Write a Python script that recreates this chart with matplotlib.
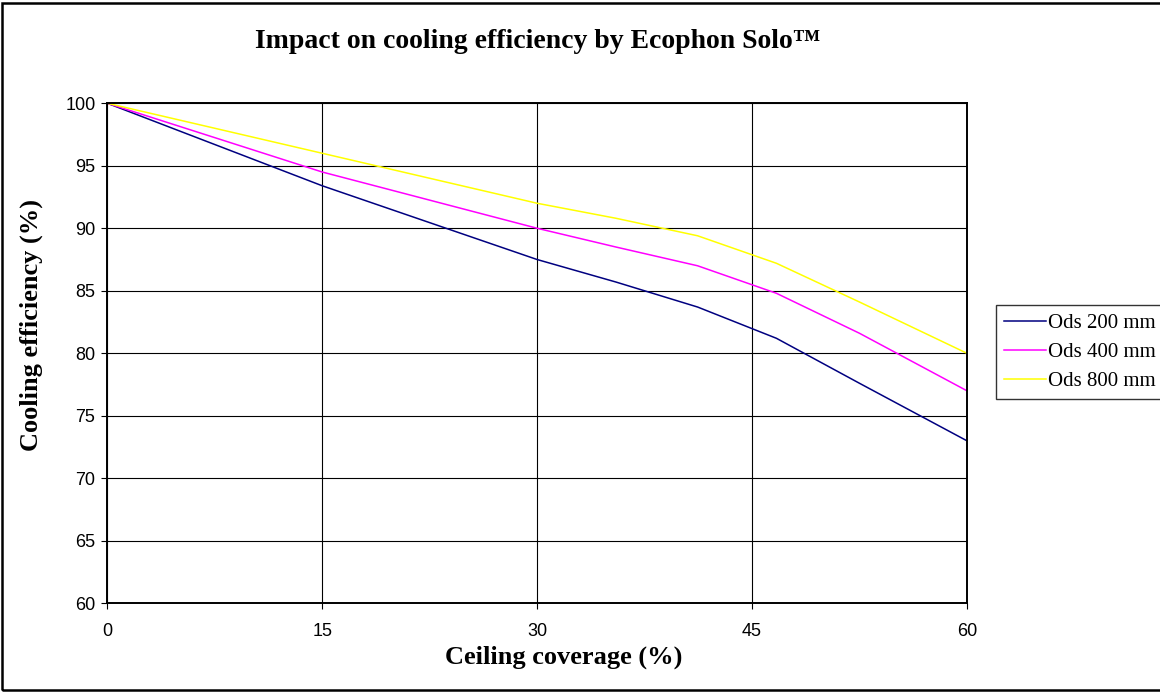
import matplotlib
matplotlib.use("Agg")
import matplotlib.pyplot as plt
from matplotlib.patches import Rectangle

# data
coverage = [0, 15, 30, 35.5, 41.2, 46.7, 52.5, 60]
ods_200 = [100, 93.4, 87.5, 85.7, 83.7, 81.2, 77.6, 73]
ods_400 = [100, 94.5, 90.0, 88.5, 87.0, 84.8, 81.6, 77]
ods_800 = [100, 96.0, 92.0, 90.8, 89.4, 87.2, 84.1, 80]
series_labels = ["Ods 200 mm", "Ods 400 mm", "Ods 800 mm"]
series_colors = ["#000080", "#FF00FF", "#FFFF00"]
x_ticks = [0, 15, 30, 45, 60]
y_ticks = [60, 65, 70, 75, 80, 85, 90, 95, 100]

serif = "Liberation Serif"
sans = "Liberation Sans"

fig = plt.figure(figsize=(11.6, 6.93), dpi=100)
ax = fig.add_axes([0.0925, 0.1294, 0.7411, 0.7216])

for y, lab, col in zip([ods_200, ods_400, ods_800], series_labels, series_colors):
    ax.plot(coverage, y, color=col, lw=1.1, label=lab)

ax.set_xlim(0, 60)
ax.set_ylim(60, 100)
ax.set_xticks(x_ticks)
ax.set_yticks(y_ticks)
ax.grid(True, color="black", lw=0.8)
ax.set_axisbelow(True)
for s in ax.spines.values():
    s.set_color("black")
    s.set_linewidth(1.4)
ax.tick_params(direction="out", length=4.5, width=0.8, colors="black", labelsize=13)
ax.tick_params(axis="x", pad=10)
ax.tick_params(axis="y", pad=4)
for lbl in ax.get_xticklabels() + ax.get_yticklabels():
    lbl.set_fontfamily(sans)

ax.set_xlabel("Ceiling coverage (%)", fontfamily=serif, fontweight="bold", fontsize=19, labelpad=6)
ax.xaxis.set_label_coords((564 - 107.3) / 860, -0.085, transform=ax.transAxes)
ax.set_ylabel("Cooling efficiency (%)", fontfamily=serif, fontweight="bold", fontsize=19)
ax.yaxis.set_label_coords(-0.075, (603.3 - 325) / 500, transform=ax.transAxes)
fig.text(538 / 1160, 1 - 42 / 693, "Impact on cooling efficiency by Ecophon Solo\u2122", ha="center",
         va="center", fontfamily=serif, fontweight="bold", fontsize=20)

leg = fig.legend(loc="upper left", bbox_to_anchor=(996 / 1160, 1 - 305 / 693), frameon=True,
                 prop={"family": serif, "size": 15}, handlelength=2.0, handletextpad=0.1,
                 borderpad=0.4, labelspacing=0.45, fancybox=False, borderaxespad=0)
leg.get_frame().set_edgecolor("black")
leg.get_frame().set_linewidth(1.0)

# outer chart border
fig.patches.append(Rectangle((0.002, 0.004), 1.1, 0.992, transform=fig.transFigure,
                             fill=False, edgecolor="black", lw=1.8))

fig.savefig("out.png", dpi=100)
